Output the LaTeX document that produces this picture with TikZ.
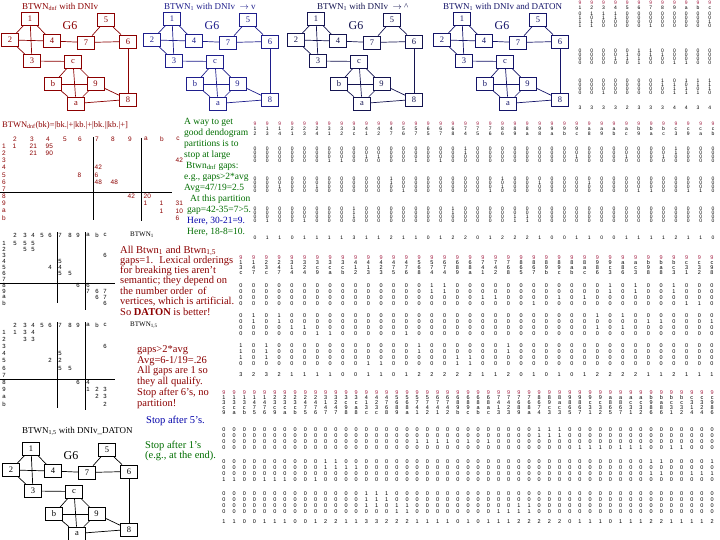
\documentclass[tikz,border=0pt]{standalone}
\usepackage{fontspec}
\setmainfont{Liberation Serif}
\newfontfamily\matfont{Liberation Sans}
\definecolor{rkred}{RGB}{140,0,0}
\definecolor{rkblue}{RGB}{30,30,140}
\definecolor{rknavy}{RGB}{20,20,80}
\definecolor{rknavyb}{RGB}{20,20,105}
\definecolor{rkgreen}{RGB}{0,110,0}
\definecolor{rkhead}{RGB}{165,35,70}
\definecolor{rktblue}{RGB}{0,0,170}

\ExplSyntaxOn
\tl_const:cn {c_rk_nb_1_tl} {234}
\tl_const:cn {c_rk_nb_2_tl} {134}
\tl_const:cn {c_rk_nb_3_tl} {12c}
\tl_const:cn {c_rk_nb_4_tl} {127}
\tl_const:cn {c_rk_nb_5_tl} {67}
\tl_const:cn {c_rk_nb_6_tl} {578}
\tl_const:cn {c_rk_nb_7_tl} {456}
\tl_const:cn {c_rk_nb_8_tl} {69a}
\tl_const:cn {c_rk_nb_9_tl} {8abc}
\tl_const:cn {c_rk_nb_a_tl} {89bc}
\tl_const:cn {c_rk_nb_b_tl} {9ac}
\tl_const:cn {c_rk_nb_c_tl} {39ab}
\tl_new:N \l_rk_path_tl
\tl_new:N \l_rk_last_tl
\tl_new:N \l_rk_pre_tl
\tl_new:N \l_rk_excl_tl
\tl_new:N \g_rk_bits_tl
\int_new:N \g_rk_sum_int
\NewDocumentCommand \rkcompute { m }
 {
  \tl_set:Nx \l_rk_path_tl {#1}
  \tl_set:Nx \l_rk_last_tl { \tl_item:Nn \l_rk_path_tl { -1 } }
  \tl_set:Nx \l_rk_pre_tl { \tl_range:Nnn \l_rk_path_tl { 1 } { -2 } }
  \tl_clear:N \l_rk_excl_tl
  \tl_map_inline:Nn \l_rk_pre_tl
   {
    \tl_put_right:Nn \l_rk_excl_tl {##1}
    \tl_put_right:Nv \l_rk_excl_tl { c_rk_nb_##1_tl }
   }
  \tl_gclear:N \g_rk_bits_tl
  \int_gzero:N \g_rk_sum_int
  \tl_map_inline:nn { 123456789abc }
   {
    \tl_if_in:cnTF { c_rk_nb_ \l_rk_last_tl _tl } {##1}
     {
      \tl_if_in:NnTF \l_rk_excl_tl {##1}
       { \tl_gput_right:Nn \g_rk_bits_tl {0} }
       { \tl_gput_right:Nn \g_rk_bits_tl {1} \int_gincr:N \g_rk_sum_int }
     }
     { \tl_gput_right:Nn \g_rk_bits_tl {0} }
   }
 }
\NewExpandableDocumentCommand \rkbit { m } { \tl_item:Nn \g_rk_bits_tl {#1} }
\NewExpandableDocumentCommand \rksum { } { \int_use:N \g_rk_sum_int }
\NewExpandableDocumentCommand \rkpch { m } { \tl_item:Nn \l_rk_path_tl {#1} }
\NewExpandableDocumentCommand \rkplen { } { \tl_count:N \l_rk_path_tl }
\ExplSyntaxOff

% #1 x0, #2 dx, #3 y of red header, #4 header step, #5 group starts, #6 row step, #7 sum y, #8 font size, #9 columns
\newcommand\rkmat[9]{%
  \foreach \p [count=\ci from 0] in {#9} {%
    \rkcompute{\p}%
    \pgfmathsetmacro\cx{#1+\ci*#2}%
    \edef\plen{\rkplen}%
    \node[mtx,font=\matfont\fontsize{#8}{#8}\selectfont,text=rkhead] at (\cx,#3) {9};
    \foreach \h in {1,...,\plen} {\node[mtx,font=\matfont\fontsize{#8}{#8}\selectfont] at (\cx,#3+\h*#4) {\rkpch{\h}};}
    \foreach \gy [count=\g from 0] in {#5} {%
      \foreach \r in {0,1,2,3} {%
        \pgfmathtruncatemacro\idx{4*\g+\r+1}%
        \node[mtx,font=\matfont\fontsize{#8}{#8}\selectfont] at (\cx,\gy+\r*#6) {\rkbit{\idx}};
      }%
    }%
    \node[mtx,font=\matfont\fontsize{#8}{#8}\selectfont] at (\cx,#7) {\rksum};
  }%
}

\newcommand\rkgraph[3]{%
  \begin{scope}[shift={#2}]
  \colorlet{gcol}{#3}
  \node[gbox] (#1-1) at (30,18.5) {1};
  \node[gbox] (#1-2) at (10,40) {2};
  \node[gbox] (#1-4) at (52,41) {4};
  \node[gbox] (#1-3) at (32,61) {3};
  \node[gbox] (#1-5) at (106,20) {5};
  \node[gbox] (#1-7) at (86,42.5) {7};
  \node[gbox] (#1-6) at (128,41.5) {6};
  \node[gbox] (#1-c) at (73,61.5) {c};
  \node[gbox] (#1-b) at (53,84) {b};
  \node[gbox] (#1-9) at (95.5,84) {9};
  \node[gbox] (#1-a) at (76,103.5) {a};
  \node[gbox] (#1-8) at (128,99.5) {8};
  \node[gsix] (#1-g) at (70,26) {G6};
  \foreach \u/\v in {1/2,1/4,1/3,2/4,2/3,4/7,7/5,5/6,7/6,3/c,c/b,c/9,c/a,b/9,b/a,9/a,a/8,9/8,6/8}
    \draw[gedge] (#1-\u) -- (#1-\v);
  \end{scope}}

\tikzset{
  gbox/.style={draw=gcol, text=gcol, line width=0.7pt, minimum width=17pt, minimum height=13pt, inner sep=0pt, font=\fontsize{8.5}{8.5}\selectfont},
  gsix/.style={text=gcol, inner sep=0pt, font=\fontsize{12}{12}\selectfont},
  gedge/.style={draw=gcol, line width=0.7pt},
  mtx/.style={inner sep=0pt, anchor=center},
  lbl/.style={inner sep=0pt, anchor=west},
  gtitle/.style={lbl, font=\fontsize{9}{9}\selectfont},
  greentxt/.style={lbl, text=rkgreen, font=\fontsize{9.5}{11}\selectfont},
  redtxt/.style={lbl, text=rkred, font=\fontsize{10.5}{12}\selectfont},
  tnum/.style={inner sep=0pt, anchor=center, font=\matfont\fontsize{6.5}{6.5}\selectfont},
  tline/.style={line width=0.6pt}
}

\begin{document}
\begin{tikzpicture}[x=1pt,y=-1pt]
\fill[white] (0,0) rectangle (720,540);
\useasboundingbox (0,0) rectangle (720,540);

% ---------- graphs ----------
\rkgraph{ga}{(0,0)}{rkred}
\rkgraph{gb}{(142,0)}{rkblue}
\rkgraph{gc}{(286,0)}{rknavy}
\rkgraph{gd}{(432,0)}{rknavyb}
\rkgraph{ge}{(1,430)}{black}

\node[gtitle,text=rkred] (ta) at (22,6.5) {BTWN\textsubscript{dnf} with DNIv};
\node[gtitle,text=rkblue] (tb) at (164,6.5) {BTWN\textsubscript{1} with DNIv \ $\rightarrow$ v};
\node[gtitle,text=rknavy] (tc) at (317,6.5) {BTWN\textsubscript{1} with DNIv \ $\rightarrow$ \textasciicircum};
\node[gtitle,text=rknavyb] (td) at (443,6.5) {BTWN\textsubscript{1} with DNIv and DATON};
\node[gtitle,text=black] (te) at (22,431) {BTWN\textsubscript{1,5} with DNIv\_DATON};

% ---------- matrices ----------
\rkmat{580}{11.8}{3}{5}{14,51,81}{4}{108}{5}{1,2,3,4,5,6,7,8,9,a,b,c}
\rkmat{255}{12.38}{124}{5}{149,179,209}{4}{238}{5}{12,13,14,21,23,24,31,32,3c,41,42,47,56,57,65,67,68,74,75,76,86,89,8a,98,9a,9b,9c,a8,a9,ab,ac,b9,ba,bc,c3,c9,ca,cb}
\rkmat{241}{12.73}{258}{5}{286,316,346}{6}{375}{5.5}{13c,147,23c,247,314,324,3c9,3ca,3cb,412,413,423,475,476,568,574,674,689,68a,741,742,768,865,867,89b,89c,8ab,8ac,986,9c3,a86,ac3,b98,ba8,bc3,c31,c32,c98}
\rkmat{224}{10.17}{393}{5}{430,462,494}{6}{522}{5.5}{13c9,13ca,13cb,1475,1476,23c9,23ca,23cb,2475,2476,3147,3247,3c98,3ca8,413c,423c,4768,5689,568a,5741,5742,6741,6742,689b,689c,68ab,68ac,7413,7423,7689,768a,8674,89c3,8ac3,9865,9867,9c31,9c32,a865,a867,ac31,ac32,b986,ba86,bc31,bc32,c314,c324,c986}

% ---------- table 1 (BTWN_dnf) ----------
\node[lbl,text=rkred,font=\fontsize{8.5}{9}\selectfont] (t1title) at (2,125) {BTWN\textsubscript{dnf}(bk)=|bk.|+|kb.|+|bk.||kb.|+]};
\begin{scope}[every node/.append style={text=rkred}]
\foreach \c/\x in {2/15,3/32,4/48,5/65,6/80,7/97,8/113,9/130,a/146,b/162,c/178}
  \node[tnum] at (\x,139) {\c};
\foreach \c [count=\i from 0] in {1,2,3,4,5,6,7,8,9,a,b}
  \node[tnum] at (4,146+\i*7.2) {\c};
\foreach \x/\y/\t in {12.5/146/1,29.5/146/21,45.5/146/95,29.5/153.2/21,45.5/153.2/90,175.5/160.4/42,94.5/167.6/42,77.5/174.8/8,94.5/174.8/6,94.5/182/48,110.5/182/48,127.5/196.4/42,143.5/196.4/20,143.5/203.6/1,159.5/203.6/1,175.5/203.6/31,159.5/210.8/1,175.5/210.8/10,175.5/218/6}
  \node[tnum,anchor=west] at (\x,\y) {\t};
\end{scope}
\draw[tline] (93,137) -- (93,220);
\draw[tline] (141,138) -- (141,221);
\draw[tline] (0,192) -- (172,192);

% ---------- green text ----------
\node[greentxt] (gt1) at (184,122) {A way to get};
\node[greentxt] (gt2) at (184,133) {good dendogram};
\node[greentxt] (gt3) at (184,144) {partitions is to};
\node[greentxt] (gt4) at (184,155) {stop at large};
\node[greentxt] (gt5) at (186,166) {Btwn\textsubscript{dnf} gaps:};
\node[greentxt] (gt6) at (184,177) {e.g., gaps>2*avg};
\node[greentxt] (gt7) at (184,188) {Avg=47/19=2.5};
\node[greentxt] (gt8) at (190,199) {At this partition};
\node[greentxt] (gt9) at (187,210) {gap=42-35=7>5.};
\node[greentxt,text=rktblue] (gt10) at (187,221) {Here, 30-21=9.};
\node[greentxt] (gt11) at (187,232) {Here, 18-8=10.};

% ---------- tables 2 and 3 ----------
\foreach \ty/\ry/\rs/\hl/\va/\vb/\ent in {
  235/243/6/283/303/310/{15/243/5,25/243/5,33/243/5,25/249/5,33/249/5,105/255/6,60/261/5,50/267/4,60/267/4,60/273/5,70/273/5,78/285/6,88/285/6,88/291/7,97/291/6,105/291/7,97/297/6,105/297/7,105/303/6},
  325/332/7.2/379/408/410/{15/332/1,25/332/3,33/332/4,25/339.2/3,33/339.2/3,105/346.4/6,60/353.6/5,50/360.8/2,60/360.8/2,60/368/5,70/368/5,78/382.4/6,88/382.4/4,88/389.6/1,97/389.6/2,105/389.6/3,97/396.8/2,105/396.8/3,105/404/2}} {
  \foreach \c/\x in {2/15,3/25,4/33,5/42,6/50,7/60,8/70,9/78,a/88,b/97,c/105}
    \node[tnum,font=\matfont\fontsize{6}{6}\selectfont] at (\x,\ty) {\c};
  \foreach \c [count=\i from 0] in {1,2,3,4,5,6,7,8,9,a,b}
    \node[tnum,font=\matfont\fontsize{6}{6}\selectfont] at (4,\ry+\i*\rs) {\c};
  \foreach \x/\y/\t in \ent
    \node[tnum,font=\matfont\fontsize{6}{6}\selectfont] at (\x,\y) {\t};
  \draw[tline] (57,\ty-3) -- (57,\va);
  \draw[tline] (85,\ty-3) -- (85,\vb);
  \draw[tline] (0,\hl) -- (115,\hl);
}

\node[gtitle,font=\fontsize{7}{7}\selectfont] (b1) at (130,235) {BTWN\textsubscript{1}};
\node[gtitle,font=\fontsize{7}{7}\selectfont] (b15) at (130,325) {BTWN\textsubscript{1,5}};

% ---------- red text ----------
\node[redtxt] (r1) at (120,251) {All Btwn\textsubscript{1} and Btwn\textsubscript{1,5}};
\node[redtxt] (r2) at (120,261) {gaps=1. \ Lexical orderings};
\node[redtxt] (r3) at (120,271) {for breaking ties aren't};
\node[redtxt] (r4) at (120,281) {semantic; they depend on};
\node[redtxt] (r5) at (120,291) {the number order \ of};
\node[redtxt] (r6) at (120,302) {vertices, which is artificial.};
\node[redtxt] (r7) at (120,312) {So \textbf{DATON} is better!};

\node[redtxt] (s1) at (137,350) {gaps>2*avg};
\node[redtxt] (s2) at (137,361) {Avg=6-1/19=.26};
\node[redtxt] (s3) at (137,371) {All gaps are 1 so};
\node[redtxt] (s4) at (137,382) {they all qualify.};
\node[redtxt] (s5) at (137,393) {Stop after 6's, no};
\node[redtxt] (s6) at (137,404) {partition!};

\node[redtxt,text=rktblue] (u1) at (146,421) {Stop after 5's.};
\node[redtxt,text=rkgreen] (u2) at (145,446) {Stop after 1's};
\node[redtxt,text=rkgreen] (u3) at (145,456) {(e.g., at the end).};
\end{tikzpicture}
\end{document}
